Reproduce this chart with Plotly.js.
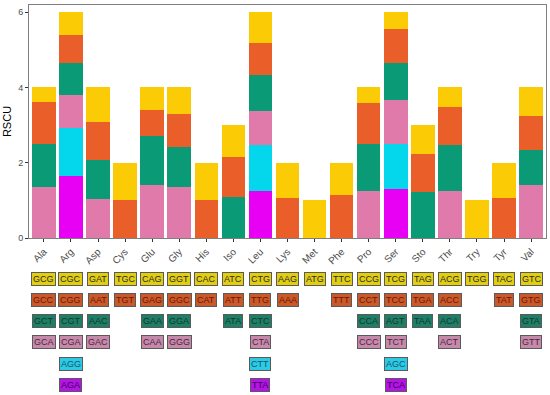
<!DOCTYPE html>
<html>
<head>
<meta charset="utf-8">
<script src="https://cdn.plot.ly/plotly-3.0.1.min.js"></script>
<style>html,body{margin:0;padding:0;background:#fff;}#chart{width:550px;height:395px;}</style>
</head>
<body>
<div id="chart"></div>
<script>
const aminoAcids = ["Ala","Arg","Asp","Cys","Glu","Gly","His","Iso","Leu","Lys","Met","Phe","Pro","Ser","Sto","Thr","Try","Tyr","Val"];

// level 1 = top of stack (yellow) ... level 6 = bottom (magenta)
const codons1 = ["GCG","CGC","GAT","TGC","CAG","GGT","CAC","ATC","CTG","AAG","ATG","TTC","CCG","TCG","TAG","ACG","TGG","TAC","GTC"];
const codons2 = ["GCC","CGG","AAT","TGT","GAG","GGC","CAT","ATT","TTG","AAA",null,"TTT","CCT","TCC","TGA","ACC",null,"TAT","GTG"];
const codons3 = ["GCT","CGT","AAC",null,"GAA","GGA",null,"ATA","CTC",null,null,null,"CCA","AGT","TAA","ACA",null,null,"GTA"];
const codons4 = ["GCA","CGA","GAC",null,"CAA","GGG",null,null,"CTA",null,null,null,"CCC","TCT",null,"ACT",null,null,"GTT"];
const codons5 = [null,"AGG",null,null,null,null,null,null,"CTT",null,null,null,null,"AGC",null,null,null,null,null];
const codons6 = [null,"AGA",null,null,null,null,null,null,"TTA",null,null,null,null,"TCA",null,null,null,null,null];

const rscu1 = [0.38,0.61,0.93,1.00,0.60,0.71,0.98,0.86,0.83,0.93,1.00,0.86,0.41,0.45,0.78,0.52,1.00,0.94,0.76];
const rscu2 = [1.11,0.75,1.00,1.00,0.70,0.87,1.02,1.06,0.84,1.07,null,1.14,1.08,0.91,1.00,1.01,null,1.06,0.89];
const rscu3 = [1.15,0.84,1.04,null,1.28,1.06,null,1.08,0.96,null,null,null,1.26,0.98,1.22,1.22,null,null,0.93];
const rscu4 = [1.36,0.87,1.03,null,1.42,1.36,null,null,0.89,null,null,null,1.25,1.15,null,1.25,null,null,1.42];
const rscu5 = [null,1.29,null,null,null,null,null,null,1.23,null,null,null,null,1.22,null,null,null,null,null];
const rscu6 = [null,1.64,null,null,null,null,null,null,1.25,null,null,null,null,1.29,null,null,null,null,null];

const barColors = ["#FBCB05","#EA5F29","#0B9A76","#E07AAB","#04D6EB","#E800F4"];
const boxColors = ["#E2CE10","#C65A2A","#1F7E66","#C589A9","#2EC9E2","#B414E4"];
const boxText   = ["#2a2a2a","#7a1000","#0b3a2d","#4f2440","#0d5870","#3f0062"];

const codonLevels = [codons1,codons2,codons3,codons4,codons5,codons6];
const valueLevels = [rscu1,rscu2,rscu3,rscu4,rscu5,rscu6];

const traces = [];
for (let k = 5; k >= 0; k--) {
  traces.push({
    type: "bar",
    x: aminoAcids,
    y: valueLevels[k],
    marker: {color: barColors[k], line: {width: 0}},
    hoverinfo: "skip",
    showlegend: false
  });
}

// plot area: top 5px, bottom 238px => height 233
const plotTop = 5, plotBottom = 238, plotH = plotBottom - plotTop;
const rowPix = [279, 300, 321, 342, 364, 385];
const annotations = [];
for (let k = 0; k < 6; k++) {
  for (let i = 0; i < aminoAcids.length; i++) {
    const c = codonLevels[k][i];
    if (!c) continue;
    annotations.push({
      x: aminoAcids[i], xref: "x",
      y: (plotBottom - rowPix[k]) / plotH, yref: "paper",
      yanchor: "middle", xanchor: "center",
      text: c, showarrow: false,
      font: {family: "Liberation Sans, Arial, sans-serif", size: 9, color: boxText[k]},
      bgcolor: boxColors[k], bordercolor: "#5a5a5a", borderwidth: 1, borderpad: 1
    });
  }
}

const layout = {
  width: 550, height: 395,
  margin: {l: 29, r: 4, t: plotTop, b: 395 - plotBottom, pad: 0},
  paper_bgcolor: "#ffffff", plot_bgcolor: "#ffffff",
  barmode: "stack", bargap: 0.13,
  font: {family: "Liberation Sans, Arial, sans-serif"},
  xaxis: {
    type: "category", range: [-0.55, 18.55],
    tickangle: -45, ticks: "outside", ticklen: 3, tickcolor: "#333333",
    tickfont: {size: 10, color: "#4d4d4d"},
    showline: true, mirror: true, linecolor: "#7f7f7f", linewidth: 1,
    showgrid: false, zeroline: false
  },
  yaxis: {
    range: [0, 6.19], tickvals: [0,2,4,6], ticktext: ["0","2","4","6"],
    ticks: "outside", ticklen: 3, tickcolor: "#333333",
    tickfont: {size: 9, color: "#4d4d4d"},
    showline: true, mirror: true, linecolor: "#7f7f7f", linewidth: 1,
    showgrid: false, zeroline: false,
    title: {text: "RSCU", font: {size: 11, color: "#000000"}, standoff: 4}
  },
  annotations: annotations
};

Plotly.newPlot("chart", traces, layout, {displayModeBar: false, staticPlot: true});
</script>
</body>
</html>
